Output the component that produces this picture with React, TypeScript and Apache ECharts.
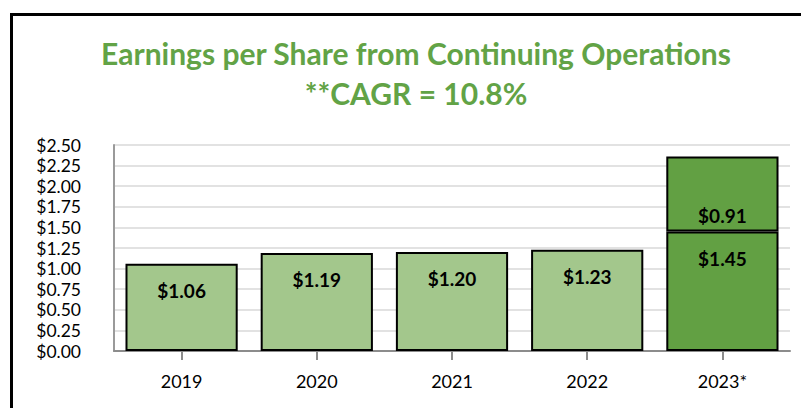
import React, { useEffect, useRef } from "react";
import * as echarts from "echarts";

const categories = ["2019", "2020", "2021", "2022", "2023*"];
const baseValues = [1.06, 1.19, 1.2, 1.23, 1.45];
const topValues: (number | string)[] = ["-", "-", "-", "-", 0.91];
const titleLine1 = "Earnings per Share from Continuing Operations";
const titleLine2 = "**CAGR = 10.8%";

const FONT = "Lato, 'Noto Sans', sans-serif";
const LIGHT = "#A3C78C";
const DARK = "#62A043";
const TITLE_GREEN = "#62A346";

export default function App() {
  const ref = useRef<HTMLDivElement>(null);
  useEffect(() => {
    if (!ref.current) return;
    const chart = echarts.init(ref.current, undefined, { renderer: "svg" });
    chart.setOption({
      animation: false,
      backgroundColor: "#fff",
      textStyle: { fontFamily: FONT },
      title: {
        text: titleLine1 + "\n" + titleLine2,
        left: 411,
        top: 28,
        textAlign: "center",
        textStyle: {
          fontFamily: FONT,
          fontSize: 30,
          fontWeight: "bold",
          color: TITLE_GREEN,
          lineHeight: 40,
        },
      },
      graphic: [
        {
          type: "polyline",
          shape: { points: [[11.5, 408], [11.5, 14.5], [801, 14.5]] },
          style: { stroke: "#000", lineWidth: 3, fill: "none" },
          silent: true,
        },
      ],
      grid: { left: 114, right: 11, top: 145, bottom: 57, containLabel: false },
      xAxis: {
        type: "category",
        data: categories,
        axisLine: { lineStyle: { color: "#8c8c8c", width: 2 } },
        axisTick: { show: true, alignWithLabel: true, length: 9, lineStyle: { color: "#8c8c8c", width: 2 } },
        axisLabel: { fontSize: 18, color: "#000", margin: 21, fontFamily: FONT },
      },
      yAxis: {
        type: "value",
        min: 0,
        max: 2.5,
        interval: 0.25,
        axisLine: { show: true, lineStyle: { color: "#9a9a9a", width: 2 } },
        axisTick: { show: false },
        splitLine: { lineStyle: { color: "#e2e2e2", width: 2 } },
        axisLabel: {
          fontSize: 17.5,
          color: "#000",
          margin: 33,
          fontFamily: FONT,
          formatter: (v: number) => "$" + v.toFixed(2),
        },
      },
      series: [
        {
          type: "bar",
          stack: "eps",
          barCategoryGap: "17%",
          data: baseValues.map((v, i) => ({
            value: v,
            itemStyle: { color: i === baseValues.length - 1 ? DARK : LIGHT },
          })),
          itemStyle: { borderColor: "#000", borderWidth: 2 },
          label: {
            show: true,
            position: "insideTop",
            distance: 17,
            fontSize: 19,
            fontWeight: "bold",
            color: "#000",
            fontFamily: FONT,
            formatter: (p: any) => "$" + Number(p.value).toFixed(2),
          },
        },
        {
          type: "bar",
          stack: "eps",
          barCategoryGap: "17%",
          data: topValues,
          itemStyle: { color: DARK, borderColor: "#000", borderWidth: 2 },
          label: {
            show: true,
            position: "insideBottom",
            distance: 7,
            fontSize: 19,
            fontWeight: "bold",
            color: "#000",
            fontFamily: FONT,
            formatter: (p: any) => "$" + Number(p.value).toFixed(2),
          },
        },
      ],
    });
    return () => chart.dispose();
  }, []);
  return (
    <div
      ref={ref}
      style={{ position: "fixed", left: 0, top: 0, width: 801, height: 408 }}
    />
  );
}
